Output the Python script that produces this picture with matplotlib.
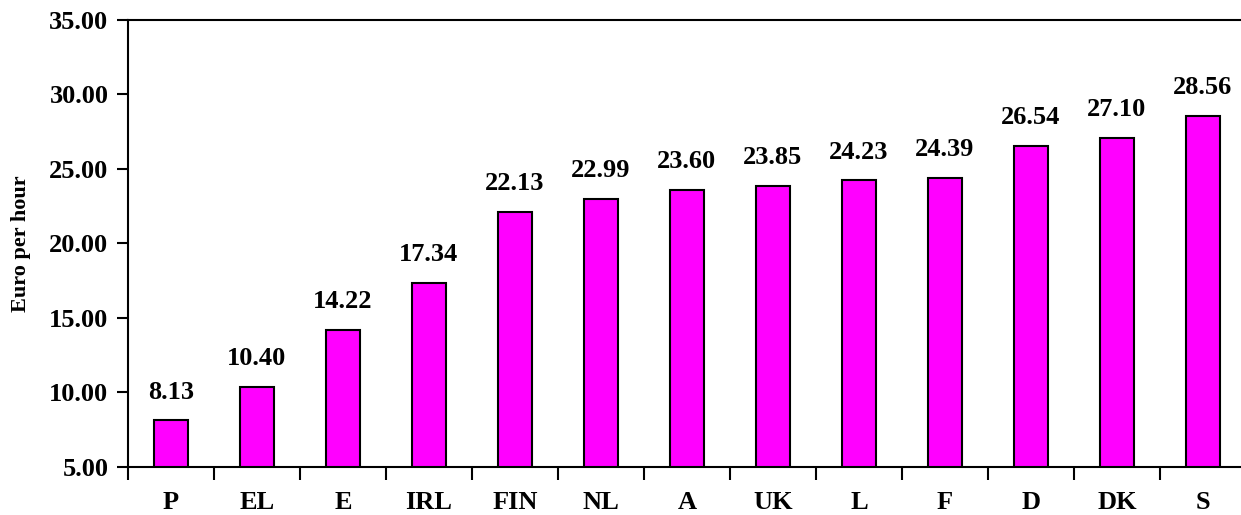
import numpy as np
import matplotlib.pyplot as plt
from matplotlib.ticker import FixedLocator, NullFormatter

# Labour cost per hour by country
countries = ["P", "EL", "E", "IRL", "FIN", "NL", "A", "UK", "L", "F", "D", "DK", "S"]
values = [8.13, 10.40, 14.22, 17.34, 22.13, 22.99, 23.60, 23.85, 24.23, 24.39, 26.54, 27.10, 28.56]
y_ticks = [5, 10, 15, 20, 25, 30, 35]

plt.rcParams['font.family'] = ['Liberation Serif', 'DejaVu Serif']
plt.rcParams['font.weight'] = 'bold'

fig = plt.figure(figsize=(12.41, 5.15), dpi=100)
ax = fig.add_axes([0.103, 0.0932, 0.901, 0.868])

x = np.arange(len(countries))
bottom = 5
ax.bar(x, np.array(values) - bottom, bottom=bottom, width=0.4,
       color='#FF00FF', edgecolor='black', linewidth=1.5, zorder=3)

for xi, v in zip(x, values):
    ax.annotate('{:.2f}'.format(v), (xi, v), xytext=(0, 12), textcoords='offset points',
                ha='center', va='bottom', fontsize=19, fontweight='bold')

ax.set_xlim(-0.5, len(countries) - 0.5)
ax.set_ylim(5, 35)
ax.set_yticks(y_ticks)
ax.set_yticklabels(['{:.2f}'.format(t) for t in y_ticks], fontsize=19, fontweight='bold')

# category labels centred, ticks on the boundaries
ax.set_xticks(x)
ax.set_xticklabels(countries, fontsize=19, fontweight='bold')
ax.tick_params(axis='x', which='major', length=0, pad=17)
ax.xaxis.set_minor_locator(FixedLocator(np.arange(-0.5, len(countries), 1.0)))
ax.xaxis.set_minor_formatter(NullFormatter())
ax.tick_params(axis='x', which='minor', length=9, width=1.5, direction='out')
ax.tick_params(axis='y', length=8, width=1.5, direction='out', pad=6)

for side in ['left', 'bottom', 'top']:
    ax.spines[side].set_linewidth(1.5)
ax.spines['right'].set_visible(False)

ax.set_ylabel('Euro per hour', fontsize=16, fontweight='bold', labelpad=13)

fig.savefig('out.png', dpi=100)
